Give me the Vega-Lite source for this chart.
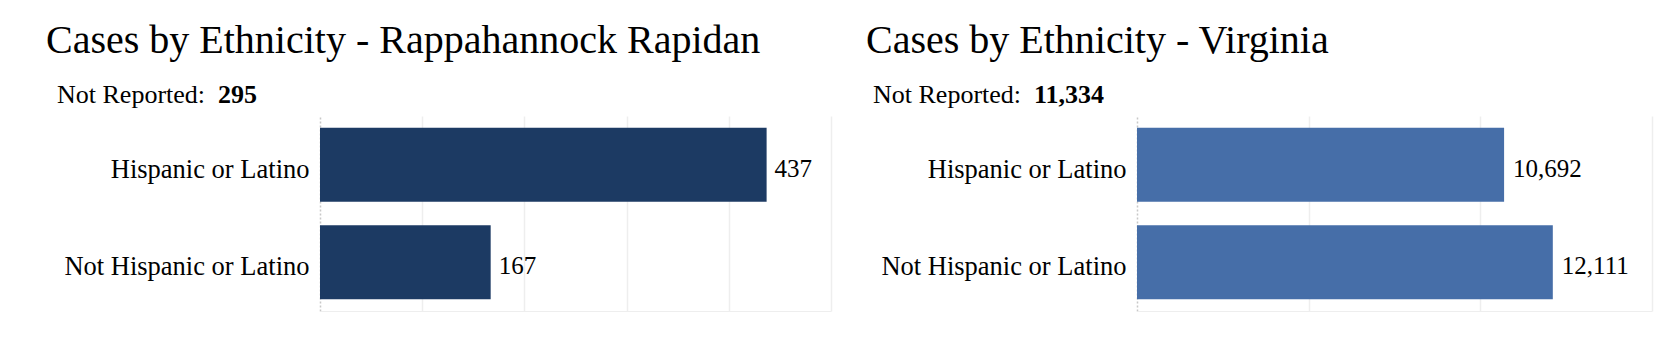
{
  "$schema": "https://vega.github.io/schema/vega-lite/v6.json",
  "background": "white",
  "padding": {"left": 46, "top": 21, "right": 5, "bottom": 5},
  "datasets": {
    "rr": [
      {"ethnicity": "Hispanic or Latino", "cases": 437, "notReported": "295"},
      {"ethnicity": "Not Hispanic or Latino", "cases": 167, "notReported": "295"}
    ],
    "va": [
      {"ethnicity": "Hispanic or Latino", "cases": 10692, "notReported": "11,334"},
      {"ethnicity": "Not Hispanic or Latino", "cases": 12111, "notReported": "11,334"}
    ]
  },
  "config": {
    "font": "Liberation Serif",
    "view": {"stroke": null},
    "title": {"font": "Liberation Serif", "fontSize": 40, "fontWeight": "normal", "color": "#000000", "anchor": "start", "frame": "bounds", "offset": 21},
    "axisY": {"labelFont": "Liberation Serif", "labelFontSize": 26.5, "labelColor": "#000000", "labelPadding": 11, "labelOffset": 5, "ticks": false, "domain": false, "grid": false, "labelLimit": 400},
    "axisX": {"labels": false, "ticks": false, "title": null, "domain": true, "domainColor": "#eeeeee", "domainWidth": 1,
      "grid": true,
      "gridColor": {"condition": {"test": "datum.value === 0", "value": "#c8c8c8"}, "value": "#eeeeee"},
      "gridDash": {"condition": {"test": "datum.value === 0", "value": [2, 2]}, "value": []},
      "gridWidth": 1.5},
    "legend": {"orient": "none", "direction": "horizontal", "titleOrient": "left", "titleFont": "Liberation Serif", "titleFontSize": 26, "titleFontWeight": "normal", "titleColor": "#000000", "titlePadding": 0, "titleBaseline": "middle", "labelFont": "Liberation Serif", "labelFontSize": 26, "labelFontWeight": "bold", "labelColor": "#000000", "labelOffset": -14, "symbolSize": 0, "symbolOpacity": 0, "symbolStrokeWidth": 0, "padding": 0}
  },
  "spacing": 35,
  "resolve": {"scale": {"color": "independent"}},
  "hconcat": [
    {
      "title": {"text": "Cases by Ethnicity - Rappahannock Rapidan", "dx": -11},
      "data": {"name": "rr"},
      "width": 511,
      "height": 195,
      "encoding": {
        "y": {"field": "ethnicity", "type": "nominal", "sort": null, "title": null, "scale": {"paddingInner": 0.24, "paddingOuter": 0.12}},
        "x": {"field": "cases", "type": "quantitative", "scale": {"domain": [0, 500], "nice": false}, "axis": {"values": [0, 100, 200, 300, 400, 500]}}
      },
      "layer": [
        {"mark": {"type": "bar"}, "encoding": {"color": {"field": "notReported", "type": "nominal", "scale": {"range": ["#1c3a63"]}, "legend": {"title": "Not Reported:", "legendX": -263, "legendY": -34}}}},
        {"mark": {"type": "text", "align": "left", "baseline": "middle", "dx": 8, "dy": 4, "fontSize": 25, "font": "Liberation Serif", "color": "#000000"}, "encoding": {"text": {"field": "cases", "type": "quantitative", "format": ","}}}
      ]
    },
    {
      "title": {"text": "Cases by Ethnicity - Virginia", "dx": -7},
      "data": {"name": "va"},
      "width": 515,
      "height": 195,
      "encoding": {
        "y": {"field": "ethnicity", "type": "nominal", "sort": null, "title": null, "scale": {"paddingInner": 0.24, "paddingOuter": 0.12}},
        "x": {"field": "cases", "type": "quantitative", "scale": {"domain": [0, 15000], "nice": false}, "axis": {"values": [0, 5000, 10000, 15000]}}
      },
      "layer": [
        {"mark": {"type": "bar"}, "encoding": {"color": {"field": "notReported", "type": "nominal", "scale": {"range": ["#466ea8"]}, "legend": {"title": "Not Reported:", "legendX": -264, "legendY": -34}}}},
        {"mark": {"type": "text", "align": "left", "baseline": "middle", "dx": 9, "dy": 4, "fontSize": 25, "font": "Liberation Serif", "color": "#000000"}, "encoding": {"text": {"field": "cases", "type": "quantitative", "format": ","}}}
      ]
    }
  ]
}
